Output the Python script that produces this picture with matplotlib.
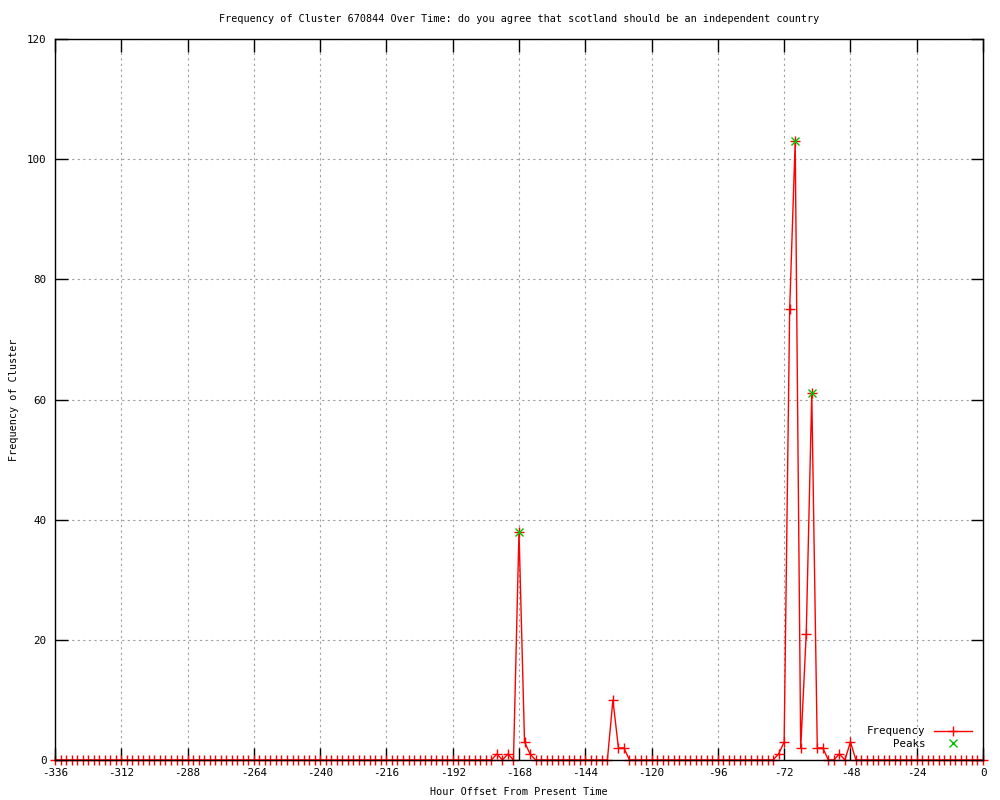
import numpy as np
import matplotlib
matplotlib.use("Agg")
import matplotlib.pyplot as plt

plt.rcParams['font.family'] = ['DejaVu Sans Mono']
plt.rcParams['axes.unicode_minus'] = False

# Hour offsets (every 2 hours over the last two weeks)
hours = np.arange(-336, 1, 2)

# Cluster frequency at each hour offset (rows of 24 hours, starting at -336)
frequency = [
    0, 0, 0, 0, 0, 0, 0, 0, 0, 0, 0, 0,
    0, 0, 0, 0, 0, 0, 0, 0, 0, 0, 0, 0,
    0, 0, 0, 0, 0, 0, 0, 0, 0, 0, 0, 0,
    0, 0, 0, 0, 0, 0, 0, 0, 0, 0, 0, 0,
    0, 0, 0, 0, 0, 0, 0, 0, 0, 0, 0, 0,
    0, 0, 0, 0, 0, 0, 0, 0, 0, 0, 0, 0,
    0, 0, 0, 0, 0, 0, 0, 0, 1, 0, 1, 0,
    38, 3, 1, 0, 0, 0, 0, 0, 0, 0, 0, 0,
    0, 0, 0, 0, 0, 10, 2, 2, 0, 0, 0, 0,
    0, 0, 0, 0, 0, 0, 0, 0, 0, 0, 0, 0,
    0, 0, 0, 0, 0, 0, 0, 0, 0, 0, 0, 1,
    3, 75, 103, 2, 21, 61, 2, 2, 0, 0, 1, 0,
    3, 0, 0, 0, 0, 0, 0, 0, 0, 0, 0, 0,
    0, 0, 0, 0, 0, 0, 0, 0, 0, 0, 0, 0,
    0,
]

# Detected peaks
peak_hours = [-168, -68, -62]
peak_values = [38, 103, 61]

title = "Frequency of Cluster 670844 Over Time: do you agree that scotland should be an independent country"
fs = 7.3

fig = plt.figure(figsize=(10, 8), dpi=100)
ax = fig.add_axes([0.055, 0.05, 0.928, 0.90125])

ax.plot(hours, frequency, color='red', linewidth=1.0, marker='+',
        markersize=7, markeredgewidth=1.0, label='Frequency', zorder=3,
        clip_on=False)
ax.plot(peak_hours, peak_values, linestyle='none', color='#00c000', marker='x',
        markersize=6, markeredgewidth=1.0, label='Peaks', zorder=4)

ax.set_xlim(-336, 0)
ax.set_ylim(0, 120)
ax.set_xticks(np.arange(-336, 1, 24))
ax.set_yticks(np.arange(0, 121, 20))

ax.grid(True, color='#a0a0a0', linestyle=(0, (2, 3)), linewidth=0.8)
ax.tick_params(direction='in', length=9, width=1, top=True, right=True,
               labelsize=fs + 0.5, pad=6, colors='black')
for s in ax.spines.values():
    s.set_linewidth(1.0)
    s.set_color('black')
    s.set_zorder(5)

ax.set_title(title, fontsize=fs, pad=12)
ax.set_xlabel('Hour Offset From Present Time', fontsize=fs, labelpad=6)
ax.set_ylabel('Frequency of Cluster', fontsize=fs, labelpad=6)

leg = ax.legend(loc='lower right', frameon=False, markerfirst=False,
                fontsize=fs + 0.5, handlelength=3.5, borderaxespad=0.6,
                labelspacing=0.25)

fig.savefig('out.png', dpi=100)
